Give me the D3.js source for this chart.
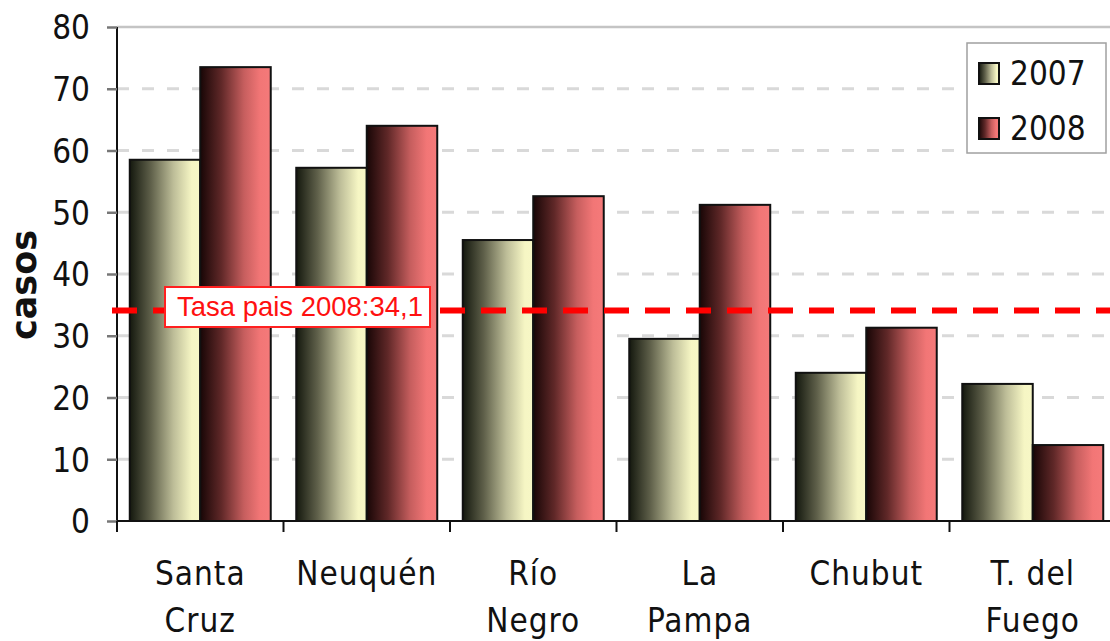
<!DOCTYPE html>
<html><head><meta charset="utf-8">
<script src="https://cdn.jsdelivr.net/npm/d3@7"></script>
<style>body{margin:0;background:#fff}svg{display:block}</style>
</head><body>
<svg id="c" width="1110" height="641"></svg>
<script>
const categories = [["Santa","Cruz"],["Neuquén"],["Río","Negro"],["La","Pampa"],["Chubut"],["T. del","Fuego"]];
const seriesNames = ["2007","2008"];
const values2007 = [58.5, 57.2, 45.5, 29.5, 24.0, 22.2];
const values2008 = [73.5, 64.0, 52.6, 51.2, 31.3, 12.3];
const yTicks = [0,10,20,30,40,50,60,70,80];
const refValue = 34.1;
const refLabel = "Tasa pais 2008:34,1";
const yTitle = "casos";

(function(){
const svg = d3.select("#c");
const pL = 117, pR = 1116, pT = 27, pB = 521;
const font = "'DejaVu Sans Condensed','DejaVu Sans',sans-serif";

const catKeys = categories.map(c => c.join(" "));
const x0 = d3.scaleBand().domain(catKeys).range([pL, pR]).paddingInner(0).paddingOuter(0);
const x1 = d3.scaleBand().domain(seriesNames).range([0, x0.bandwidth()]).paddingInner(0).paddingOuter(0.181);
const y = d3.scaleLinear().domain([0,80]).range([pB, pT]);

const defs = svg.append("defs");
function grad(id, stops){
  const g = defs.append("linearGradient").attr("id", id).attr("x1","0%").attr("x2","100%").attr("y1","0%").attr("y2","0%");
  stops.forEach(s => g.append("stop").attr("offset", s[0]).attr("stop-color", s[1]));
}
grad("g2007", [["0%","#14180e"],["30%","#5f604a"],["62%","#bdbd98"],["88%","#f6f6c4"],["100%","#f7f7c6"]]);
grad("g2008", [["0%","#180606"],["30%","#602828"],["62%","#c65e5e"],["85%","#f27676"],["100%","#f57a7a"]]);
const fills = {"2007":"url(#g2007)","2008":"url(#g2008)"};

// gridlines
svg.append("g").selectAll("line").data(yTicks.filter(t => t>0 && t<80)).join("line")
  .attr("x1", pL).attr("x2", 1110).attr("y1", d => y(d)).attr("y2", d => y(d))
  .attr("stroke", "#d9d9d9").attr("stroke-width", 3).attr("stroke-dasharray", "12,13");
svg.append("line").attr("x1", pL).attr("x2", 1110).attr("y1", y(80)).attr("y2", y(80))
  .attr("stroke", "#c4c4c4").attr("stroke-width", 2.5);

// bars
const rows = catKeys.map((k,i) => ({k, v: {"2007": values2007[i], "2008": values2008[i]}}));
const grp = svg.append("g").selectAll("g").data(rows).join("g").attr("transform", d => `translate(${x0(d.k)},0)`);
grp.selectAll("rect").data(d => seriesNames.map(s => ({s, v: d.v[s]}))).join("rect")
  .attr("x", d => x1(d.s)).attr("width", x1.bandwidth())
  .attr("y", d => y(d.v)).attr("height", d => y(0) - y(d.v))
  .attr("fill", d => fills[d.s]).attr("stroke", "#111").attr("stroke-width", 2);

// y axis
const yAxis = d3.axisLeft(y).tickValues(yTicks).tickSize(10).tickPadding(17).tickFormat(d3.format("d"));
const ya = svg.append("g").attr("transform", `translate(${pL},0)`).call(yAxis);
ya.select(".domain").attr("stroke", "#111").attr("stroke-width", 2).attr("d", `M0,${pT}V${pB}`);
ya.selectAll(".tick line").attr("stroke", "#777").attr("stroke-width", 2.5);
ya.selectAll(".tick text").attr("font-family", font).attr("font-size", 33).attr("fill", "#111").attr("dy", "0.36em");

// x axis
const xAxis = d3.axisBottom(x0).tickSize(0).tickFormat("");
const xa = svg.append("g").attr("transform", `translate(0,${pB})`).call(xAxis);
xa.select(".domain").attr("stroke", "#111").attr("stroke-width", 2).attr("d", `M${pL},0H1110`);
const bounds = catKeys.map(k => x0(k)).concat([pR]);
xa.selectAll("line.bt").data(bounds).join("line").attr("class","bt")
  .attr("x1", d => d).attr("x2", d => d).attr("y1", 0).attr("y2", 11).attr("stroke", "#111").attr("stroke-width", 2);
const lab = svg.append("g").selectAll("text").data(categories).join("text")
  .attr("font-family", font).attr("font-size", 33).attr("fill", "#111").attr("text-anchor", "middle")
  .attr("letter-spacing", 1);
lab.each(function(d,i){
  const cx = x0(catKeys[i]) + x0.bandwidth()/2;
  d3.select(this).selectAll("tspan").data(d).join("tspan")
    .attr("x", cx).attr("y", (t,j) => 585 + j*47).text(t => t);
});

// y title
svg.append("text").attr("transform", `translate(36,${(pT+pB)/2 + 11}) rotate(-90)`)
  .attr("text-anchor", "middle").attr("font-family", "'DejaVu Sans',sans-serif").attr("font-weight", "bold")
  .attr("font-size", 35).attr("fill", "#111").text(yTitle);

// reference line
svg.append("line").attr("x1", 112).attr("x2", 1110).attr("y1", y(refValue)).attr("y2", y(refValue))
  .attr("stroke", "#ff0000").attr("stroke-width", 6).attr("stroke-dasharray", "25,16");
svg.append("rect").attr("x", 165).attr("y", 287).attr("width", 265).attr("height", 40)
  .attr("fill", "#fff").attr("stroke", "#ff2020").attr("stroke-width", 2);
svg.append("text").attr("x", 177).attr("y", 316).attr("font-family", "'Liberation Sans Narrow','Liberation Sans',Arial,sans-serif")
  .attr("font-size", 28).attr("fill", "#ff1010").attr("textLength", 246).attr("lengthAdjust", "spacingAndGlyphs").text(refLabel);

// legend
const lg = svg.append("g");
lg.append("rect").attr("x", 967).attr("y", 43).attr("width", 139).attr("height", 110)
  .attr("fill", "#fff").attr("stroke", "#a0a0a0").attr("stroke-width", 1.5);
seriesNames.forEach((s,i) => {
  const yy = 63 + i*55;
  lg.append("rect").attr("x", 979).attr("y", yy).attr("width", 20).attr("height", 21)
    .attr("fill", fills[s]).attr("stroke", "#111").attr("stroke-width", 2);
  lg.append("text").attr("x", 1010).attr("y", yy + 22).attr("font-family", font).attr("font-size", 33)
    .attr("fill", "#111").text(s);
});
})();
</script>
</body></html>
